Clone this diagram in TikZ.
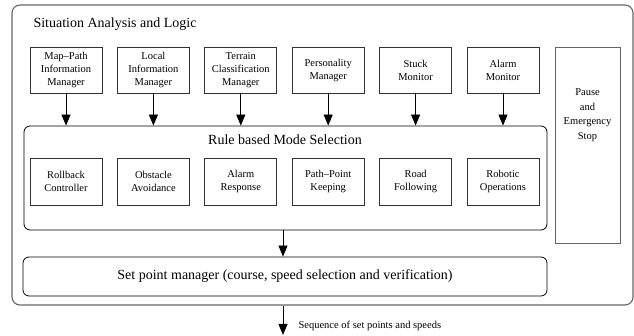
\documentclass[tikz,border=0pt]{standalone}
\usepackage{fontspec}
\setmainfont{Liberation Serif}
\usetikzlibrary{arrows.meta}
\begin{document}
\begin{tikzpicture}[x=1pt,y=-1pt,
  arr/.style={draw=black, line width=0.8pt, -{Triangle[width=9pt,length=11pt]}},
  smallbox/.style={draw=black!80, line width=0.8pt, minimum width=72pt, align=center,
     font=\fontsize{10.5}{13}\selectfont, inner sep=1pt},
  topbox/.style={smallbox, minimum height=46pt},
  modebox/.style={smallbox, minimum height=47pt},
  outerbox/.style={draw=black!60, line width=1.1pt, rounded corners=8pt},
  roundbox/.style={draw=black, line width=0.8pt, rounded corners=6pt},
  graybox/.style={draw=black!60, line width=1pt, align=center,
     font=\fontsize{10.5}{14.5}\selectfont},
  bigtext/.style={font=\fontsize{14}{16}\selectfont}
]
\useasboundingbox (0,0) rectangle (634,336);
% outer container
\node[outerbox, minimum width=621pt, minimum height=300pt] (outer) at (322.5,155) {};
\node[bigtext, anchor=base west] (title) at (30,28) {Situation Analysis and Logic};
% top row
\node[topbox] (t1) at (66,70) {Map--Path\\Information\\Manager};
\node[topbox] (t2) at (153.4,70) {Local\\Information\\Manager};
\node[topbox] (t3) at (240.8,70) {Terrain\\Classification\\Manager};
\node[topbox] (t4) at (328.2,70) {Personality\\Manager};
\node[topbox] (t5) at (415.6,70) {Stuck\\Monitor};
\node[topbox] (t6) at (503,70) {Alarm\\Monitor};
% pause box
\node[graybox, minimum width=65pt, minimum height=196pt, anchor=north] (pause) at (587.5,47) {};
\node[graybox, draw=none, anchor=north] (pausetxt) at (pause.north) [yshift=-38pt] {Pause\\and\\Emergency\\Stop};
% mode selection
\node[roundbox, minimum width=523pt, minimum height=104pt] (mode) at (285.5,178) {};
\node[bigtext] (modetitle) at (285,140) {Rule based Mode Selection};
\node[modebox] (m1) at (66,181.5) {Rollback\\Controller};
\node[modebox] (m2) at (153.4,181.5) {Obstacle\\Avoidance};
\node[modebox] (m3) at (240.8,181.5) {Alarm\\Response};
\node[modebox] (m4) at (328.2,181.5) {Path--Point\\Keeping};
\node[modebox] (m5) at (415.6,181.5) {Road\\Following};
\node[modebox] (m6) at (503,181.5) {Robotic\\Operations};
% set point manager
\node[roundbox, bigtext, minimum width=524pt, minimum height=39pt] (setp) at (285,276.5) {Set point manager (course, speed selection and verification)};
% arrows
\foreach \n in {t1,t2,t3,t4,t5,t6}{
  \draw[arr] (\n) -- (\n |- mode.north);
}
\coordinate (out) at (283,335);
\draw[arr] (out |- mode.south) -- (out |- setp.north);
\draw[arr] (out |- outer.south) -- (out);
\node[anchor=west, font=\fontsize{10.5}{12}\selectfont] (seq) at (295,326) {Sequence of set points and speeds};
\end{tikzpicture}
\end{document}
